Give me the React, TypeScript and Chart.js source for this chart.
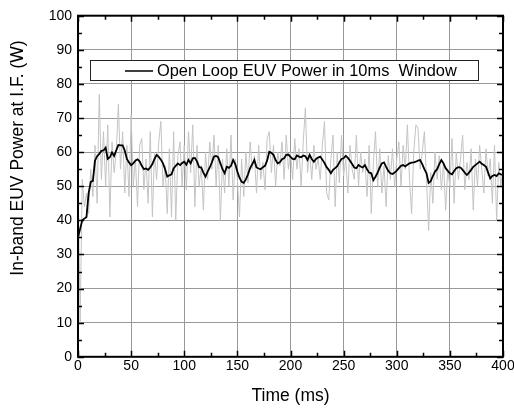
import React, { useEffect, useRef } from "react";
import { Chart, registerables } from "chart.js";

Chart.register(...registerables);

// Sample step (ms) of both traces
const stepMs = 2;

// Raw open-loop EUV power (W), sampled every 2 ms from 0 to 400 ms
const rawPower: number[] = [
  53, 10, 52, 44, 48, 42, 55, 47, 62, 45,
  77, 52, 66, 50, 68, 41, 63, 54, 60, 74,
  55, 66, 48, 62, 47, 71, 50, 58, 44, 62,
  64, 49, 58, 45, 66, 41, 60, 52, 63, 69,
  50, 56, 42, 61, 41, 66, 40, 59, 63, 50,
  62, 49, 66, 54, 68, 44, 62, 50, 56, 43,
  60, 52, 63, 55, 65, 50, 62, 40, 58, 48,
  61, 50, 65, 46, 58, 52, 41, 58, 47, 60,
  51, 63, 55, 59, 48, 62, 52, 57, 49, 64,
  66, 54, 62, 50, 60, 56, 63, 52, 65, 55,
  60, 52, 64, 55, 61, 50, 63, 73, 54, 60,
  52, 62, 55, 58, 52, 62, 69, 48, 46, 58,
  65, 44, 60, 51, 65, 53, 58, 48, 62, 55,
  52, 65, 50, 60, 54, 58, 47, 62, 42, 57,
  66, 50, 61, 48, 56, 44, 59, 52, 61, 50,
  58, 63, 50, 62, 55, 68, 52, 42, 60, 68,
  67, 55, 60, 66, 52, 37, 54, 45, 60, 52,
  59, 49, 57, 43, 55, 50, 64, 45, 60, 52,
  58, 65, 49, 57, 52, 61, 43, 58, 50, 62,
  55, 48, 61, 53, 58, 45, 62, 40, 57, 50,
  56,
];

// 10 ms window average (W), sampled every 2 ms from 0 to 400 ms
const windowPower: number[] = [
  35, 37.5, 40, 40.5, 41, 48, 51.3, 51.6, 57.5, 58.8,
  59.5, 60.4, 60.5, 61.3, 58, 58.5, 59.9, 58.9, 60.5, 62.1,
  62, 62, 60.5, 58, 57, 56.2, 56.7, 57.5, 57.9, 57.3,
  56, 55, 55.2, 54.8, 55.5, 56.5, 58, 59.2, 58.6, 57.8,
  56.7, 55, 52.8, 53.2, 53.5, 55.2, 56, 56.7, 56.2, 56.8,
  57.2, 56.3, 57.7, 56.7, 58.2, 58.3, 57.3, 55.6, 55.5, 54,
  52.8, 54.3, 55.5, 57, 58.7, 58.9, 58.5, 56.7, 55, 53.8,
  55.7, 55.4, 56, 57.7, 56.5, 54.3, 52.5, 51.3, 51, 52,
  53.5, 55.3, 56.5, 57.7, 55.5, 55.2, 55, 55.6, 56, 57.5,
  60.1, 59.8, 59.2, 57.7, 56.7, 57, 57.9, 58.2, 59.2, 59.3,
  58.6, 58, 57.9, 59, 58.7, 58.5, 59, 58.8, 57.7, 59.2,
  58, 57.2, 58, 58.4, 58.7, 57.8, 56.8, 55.6, 54.8, 53.8,
  54.8, 55.3, 55.9, 57, 58, 58.2, 58.9, 58.3, 57.5, 56.5,
  55.5, 55.3, 56.2, 55.8, 55.5, 56.2, 55, 54, 53.8, 51.8,
  52.8, 54, 55.5, 56.7, 57, 55.7, 54.5, 53.8, 53.6, 54,
  54.6, 55.3, 56, 56.2, 55.8, 56.3, 56.7, 56.9, 57, 57.2,
  57.5, 57.7, 56.5, 55, 53.8, 51, 51.5, 53, 54.3, 55,
  56.5, 57.7, 56.7, 55.3, 54.5, 53.8, 53.5, 54.5, 55.3, 55.6,
  55.5, 54.8, 54, 53.3, 54, 54.8, 55.7, 56.2, 56.7, 57.2,
  56.6, 56.2, 55.7, 54, 52.3, 53, 53.3, 53, 53.8, 53.5,
  53.3,
];

const xTitle = "Time (ms)";
const yTitle = "In-band EUV Power at I.F. (W)";
const legendLabel = "Open Loop EUV Power in 10ms  Window";

const FONT = "'Liberation Sans', Arial, sans-serif";

const decorPlugin = {
  id: "decor",
  afterDatasetsDraw(chart: any) {
    const ctx = chart.ctx;
    const xs = chart.scales.x;
    const ys = chart.scales.y;
    const { left, right, top, bottom } = chart.chartArea;
    ctx.save();
    // inward ticks on all four sides
    ctx.strokeStyle = "#000";
    ctx.lineWidth = 1.5;
    ctx.beginPath();
    for (let v = 0; v <= 400; v += 25) {
      const px = Math.round(xs.getPixelForValue(v)) + 0.5;
      const len = v % 50 === 0 ? 6 : 4;
      ctx.moveTo(px, bottom);
      ctx.lineTo(px, bottom - len);
      ctx.moveTo(px, top);
      ctx.lineTo(px, top + len);
    }
    for (let v = 0; v <= 100; v += 5) {
      const py = Math.round(ys.getPixelForValue(v)) + 0.5;
      const len = v % 10 === 0 ? 6 : 4;
      ctx.moveTo(left, py);
      ctx.lineTo(left + len, py);
      ctx.moveTo(right, py);
      ctx.lineTo(right - len, py);
    }
    ctx.stroke();
    // frame
    ctx.lineWidth = 2;
    ctx.strokeRect(left, top, right - left, bottom - top);

    // legend box
    ctx.fillStyle = "#fff";
    ctx.fillRect(90.5, 60.5, 388, 20);
    ctx.lineWidth = 1;
    ctx.strokeStyle = "#222";
    ctx.strokeRect(90.5, 60.5, 388, 20);
    ctx.strokeStyle = "#000";
    ctx.lineWidth = 1.5;
    ctx.beginPath();
    ctx.moveTo(125, 71);
    ctx.lineTo(153, 71);
    ctx.stroke();
    ctx.fillStyle = "#000";
    ctx.font = `16.4px ${FONT}`;
    ctx.textAlign = "left";
    ctx.textBaseline = "middle";
    ctx.fillText(legendLabel, 157, 71);

    // axis titles
    ctx.font = `17.5px ${FONT}`;
    ctx.textAlign = "center";
    ctx.fillText(xTitle, (left + right) / 2, 396.5);
    ctx.save();
    ctx.translate(18, 158);
    ctx.rotate(-Math.PI / 2);
    ctx.fillText(yTitle, 0, 0);
    ctx.restore();
    ctx.restore();
  },
};

export default function App() {
  const ref = useRef<HTMLCanvasElement | null>(null);
  useEffect(() => {
    document.body.style.margin = "0";
    const canvas = ref.current;
    if (!canvas) return;
    const rawPts = rawPower.map((v, i) => ({ x: i * stepMs, y: v }));
    const winPts = windowPower.map((v, i) => ({ x: i * stepMs, y: v }));
    const chart = new Chart(canvas, {
      type: "line",
      data: {
        datasets: [
          {
            label: legendLabel,
            data: winPts,
            borderColor: "#000",
            borderWidth: 1.8,
            pointRadius: 0,
            tension: 0,
            order: 0,
          },
          {
            label: "raw",
            data: rawPts,
            borderColor: "#c4c4c4",
            borderWidth: 1,
            pointRadius: 0,
            tension: 0,
            order: 1,
          },
        ],
      },
      options: {
        responsive: false,
        animation: false,
        layout: { padding: { top: 15.7, right: 11, left: 0, bottom: 0 } },
        plugins: {
          legend: { display: false },
          tooltip: { enabled: false },
        },
        scales: {
          x: {
            type: "linear",
            min: 0,
            max: 400,
            ticks: {
              stepSize: 50,
              color: "#000",
              padding: 1,
              maxRotation: 0,
              font: { family: FONT, size: 14 },
            },
            grid: { color: "#999", lineWidth: 1, drawTicks: false },
            border: { display: false },
            afterFit: (s: any) => {
              s.height = 52.2;
              s.paddingLeft = 0;
              s.paddingRight = 0;
            },
          },
          y: {
            type: "linear",
            min: 0,
            max: 100,
            ticks: {
              stepSize: 10,
              color: "#000",
              padding: 6,
              font: { family: FONT, size: 14 },
            },
            grid: { color: "#999", lineWidth: 1, drawTicks: false },
            border: { display: false },
            afterFit: (s: any) => {
              s.width = 78;
              s.paddingTop = 0;
              s.paddingBottom = 0;
            },
          },
        },
      },
      plugins: [decorPlugin],
    });
    return () => chart.destroy();
  }, []);
  return <canvas ref={ref} width={514} height={409} style={{ display: "block" }} />;
}
